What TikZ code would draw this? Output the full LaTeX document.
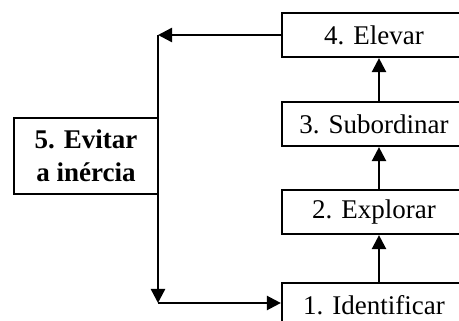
\documentclass[tikz,border=0pt]{standalone}
\usepackage{fontspec}
\setmainfont{Liberation Serif}
\usetikzlibrary{arrows.meta}
\begin{document}
\begin{tikzpicture}[x=1pt,y=-1pt,
  stepbox/.style={draw,line width=2.2pt,minimum width=184pt,minimum height=44pt,
    inner sep=0pt,font=\fontsize{27}{33}\selectfont},
  keybox/.style={draw,line width=2.2pt,minimum width=144pt,minimum height=76pt,
    inner sep=0pt,align=center,font=\fontsize{27}{33}\selectfont\bfseries},
  arr/.style={line width=2.4pt,-{Triangle[length=14pt,width=14pt]}}]
\useasboundingbox (0,0) rectangle (459,321);
\clip (0,0) rectangle (459,321);

% the four steps, bottom to top
\node[stepbox] (s4) at (374,35)  {4. Elevar};
\node[stepbox] (s3) at (374,124) {3. Subordinar};
\node[stepbox] (s2) at (374,212) {2. Explorar};
\node[stepbox] (s1) at (374,305) {1. Identificar};

% the feedback step on the left
\node[keybox] (ev) at (86,156) {5. Evitar\\a inércia};

% corners of the return loop
\coordinate (ct) at (158,35);
\coordinate (cb) at (158,303);

% upward chain
\draw[arr] ([xshift=5pt]s1.north) -- ([xshift=5pt]s2.south);
\draw[arr] ([xshift=5pt]s2.north) -- ([xshift=5pt]s3.south);
\draw[arr] ([xshift=5pt]s3.north) -- ([xshift=5pt]s4.south);

% loop back to the start
\draw[arr] (s4.west) -- (ct);
\draw[arr] (ct) -- (cb);
\draw[arr] (cb) -- (s1.west |- cb);
\end{tikzpicture}
\end{document}
